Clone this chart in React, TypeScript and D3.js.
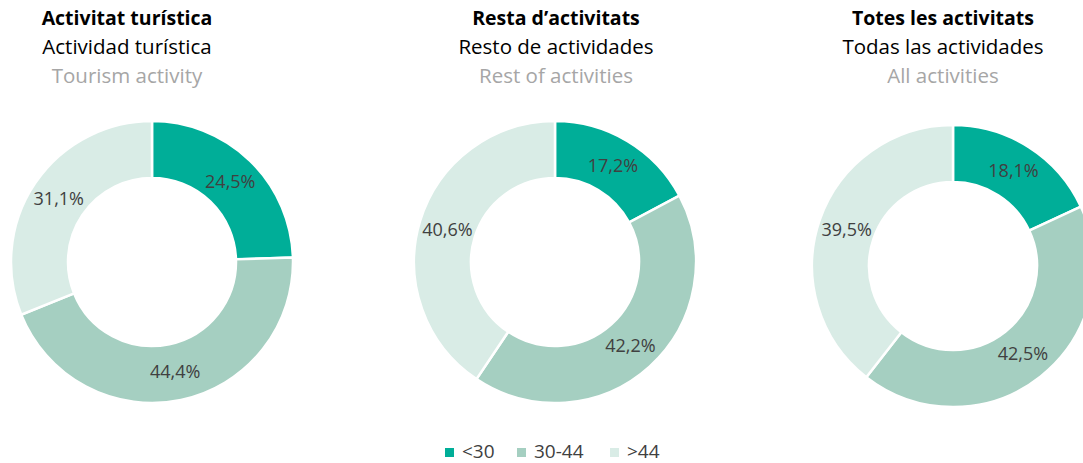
import React from "react";
import * as d3 from "d3";

const categories = ["<30", "30-44", ">44"];
const colors = ["#00AE98", "#A5CFC1", "#D9ECE6"];

const titlesCa = ["Activitat turística", "Resta d\u2019activitats", "Totes les activitats"];
const titlesEs = ["Actividad turística", "Resto de actividades", "Todas las actividades"];
const titlesEn = ["Tourism activity", "Rest of activities", "All activities"];

const tourismValues = [24.5, 44.4, 31.1];
const restValues = [17.2, 42.2, 40.6];
const allValues = [18.1, 42.5, 39.5];
const seriesValues = [tourismValues, restValues, allValues];

const W = 1083;
const H = 463;
const centers = [
  { x: 152, y: 262, tx: 127 },
  { x: 555, y: 262, tx: 556 },
  { x: 953, y: 266, tx: 943 },
];
const outerR = 141;
const innerR = 84;
const font = "'Open Sans', 'Noto Sans', sans-serif";

const fmt = (v: number) => v.toFixed(1).replace(".", ",") + "%";

export default function App() {
  const pie = d3
    .pie<number>()
    .value((d) => d)
    .sort(null);
  const arc = d3.arc<d3.PieArcDatum<number>>().innerRadius(innerR).outerRadius(outerR);

  const legendX = [445, 517, 610];

  return (
    <svg
      width={W}
      height={H}
      style={{ position: "absolute", left: 0, top: 0, background: "#fff" }}
      fontFamily={font}
    >
      {seriesValues.map((vals, i) => {
        const c = centers[i];
        const arcs = pie(vals);
        return (
          <g key={i}>
            <text x={c.tx} y={25} textAnchor="middle" fontWeight="bold" fontSize={19.5} fill="#000">
              {titlesCa[i]}
            </text>
            <text x={c.tx} y={54} textAnchor="middle" fontSize={20.5} fill="#000">
              {titlesEs[i]}
            </text>
            <text x={c.tx} y={83} textAnchor="middle" fontSize={20.5} fill="#A6A6A6">
              {titlesEn[i]}
            </text>
            <g transform={`translate(${c.x},${c.y})`}>
              {arcs.map((a, j) => (
                <path key={j} d={arc(a) || ""} fill={colors[j]} stroke="#fff" strokeWidth={2.5} />
              ))}
              {arcs.map((a, j) => {
                const [lx, ly] = arc.centroid(a);
                return (
                  <text
                    key={"l" + j}
                    x={lx}
                    y={ly}
                    dy="0.35em"
                    textAnchor="middle"
                    fontSize={18}
                    fill="#404040"
                  >
                    {fmt(vals[j])}
                  </text>
                );
              })}
            </g>
          </g>
        );
      })}
      {categories.map((cat, i) => (
        <g key={cat}>
          <rect x={legendX[i]} y={448} width={9} height={9} fill={colors[i]} />
          <text x={legendX[i] + 17} y={457.5} fontSize={19} fill="#404040">
            {cat}
          </text>
        </g>
      ))}
    </svg>
  );
}
